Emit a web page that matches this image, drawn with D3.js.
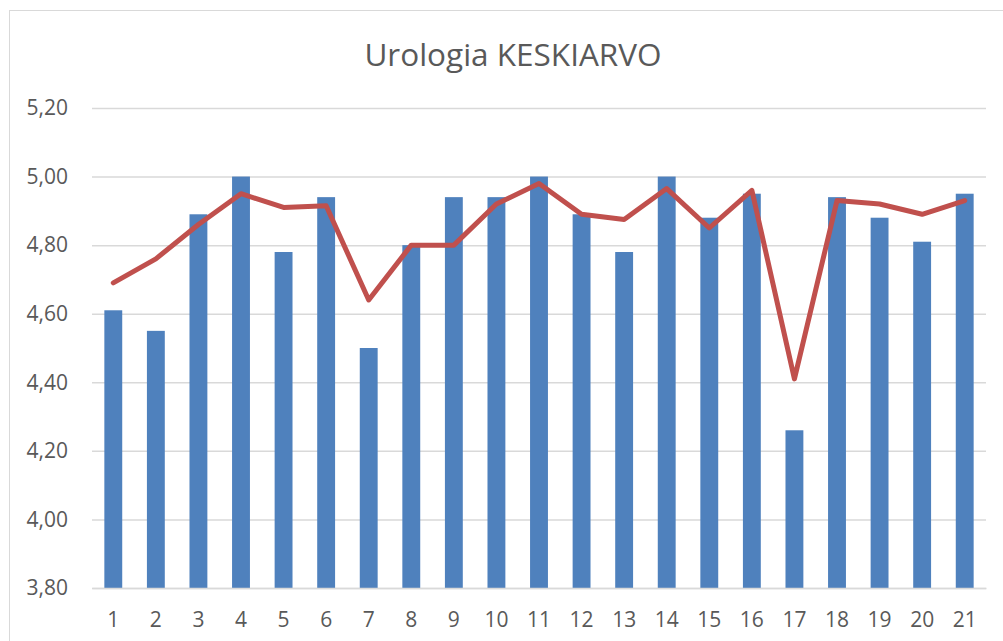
<!DOCTYPE html>
<html>
<head>
<meta charset="utf-8">
<script src="https://cdn.jsdelivr.net/npm/d3@7"></script>
<style>
  body { margin: 0; background: #fff; }
  svg { display: block; }
</style>
</head>
<body>
<div id="chart"></div>
<script>
// data
var categories = ["1","2","3","4","5","6","7","8","9","10","11","12","13","14","15","16","17","18","19","20","21"];
var barValues  = [4.61,4.55,4.89,5.00,4.78,4.94,4.50,4.80,4.94,4.94,5.00,4.89,4.78,5.00,4.88,4.95,4.26,4.94,4.88,4.81,4.95];
var lineValues = [4.69,4.76,4.86,4.95,4.91,4.915,4.64,4.80,4.80,4.92,4.98,4.89,4.875,4.965,4.85,4.96,4.41,4.93,4.92,4.89,4.93];
var yTicks = [3.8,4.0,4.2,4.4,4.6,4.8,5.0,5.2];
var title = "Urologia KESKIARVO";

var W = 1003, H = 641;
var margin = {left: 92, right: 17, top: 108, bottom: 53};

var svg = d3.select("#chart").append("svg")
    .attr("width", W).attr("height", H);

// chart frame
svg.append("rect")
    .attr("x", 9.5).attr("y", 10.5)
    .attr("width", W + 10).attr("height", H + 10)
    .attr("fill", "none")
    .attr("stroke", "#d9d9d9")
    .attr("stroke-width", 1);

svg.append("text")
    .attr("x", 513).attr("y", 66)
    .attr("text-anchor", "middle")
    .attr("font-family", "'Open Sans', sans-serif")
    .attr("font-size", "31.5px")
    .attr("fill", "#595959")
    .text(title);

var x = d3.scaleBand()
    .domain(categories)
    .range([margin.left, W - margin.right])
    .paddingInner(0.58).paddingOuter(0.29);

var y = d3.scaleLinear()
    .domain([3.8, 5.2])
    .range([H - margin.bottom, margin.top]);

var fmt = function(d) { return d3.format(".2f")(d).replace(".", ","); };

// gridlines
var yAxis = svg.append("g")
    .attr("transform", "translate(" + margin.left + ",0)")
    .call(d3.axisLeft(y).tickValues(yTicks).tickFormat(fmt)
        .tickSize(-(W - margin.right - margin.left)).tickPadding(24));
yAxis.select(".domain").remove();
yAxis.selectAll(".tick line").attr("stroke", "#d9d9d9").attr("stroke-width", 1.5);
yAxis.selectAll(".tick text")
    .attr("font-family", "'Open Sans', sans-serif")
    .attr("font-size", "21px")
    .attr("fill", "#595959");

// bars
svg.selectAll("rect.bar")
    .data(barValues)
    .enter().append("rect")
    .attr("class", "bar")
    .attr("x", function(d, i) { return x(categories[i]); })
    .attr("width", x.bandwidth())
    .attr("y", function(d) { return y(d); })
    .attr("height", function(d) { return y(3.8) - y(d); })
    .attr("fill", "#4f81bd");

// x axis
var xAxis = svg.append("g")
    .attr("transform", "translate(0," + (H - margin.bottom) + ")")
    .call(d3.axisBottom(x).tickSize(0).tickPadding(24));
xAxis.select(".domain").attr("stroke", "#d9d9d9").attr("stroke-width", 1.5);
xAxis.selectAll(".tick text")
    .attr("font-family", "'Open Sans', sans-serif")
    .attr("font-size", "21px")
    .attr("fill", "#595959");

// line
var line = d3.line()
    .x(function(d, i) { return x(categories[i]) + x.bandwidth() / 2; })
    .y(function(d) { return y(d); });

svg.append("path")
    .datum(lineValues)
    .attr("d", line)
    .attr("fill", "none")
    .attr("stroke", "#c0504d")
    .attr("stroke-width", 5)
    .attr("stroke-linejoin", "round")
    .attr("stroke-linecap", "round");
</script>
</body>
</html>
